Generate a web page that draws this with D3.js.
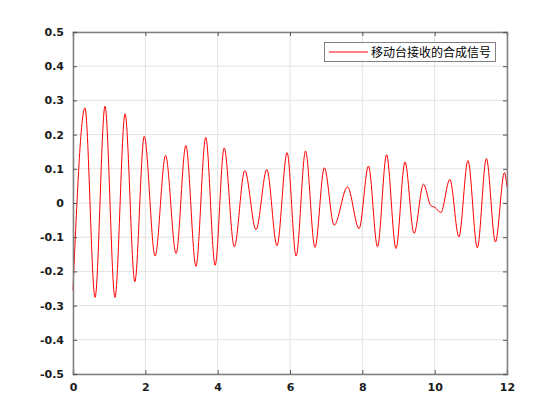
<!DOCTYPE html>
<html>
<head>
<meta charset="utf-8">
<script src="https://cdn.jsdelivr.net/npm/d3@7"></script>
<style>
  body { margin: 0; background: #fff; }
  .tick text { font-family: "DejaVu Sans", sans-serif; font-weight: bold; font-size: 11px; fill: #1a1a1a; }
</style>
</head>
<body>
<svg width="560" height="420"></svg>
<script>
// turning points of the signal
var times = [0, 0.33, 0.61, 0.885, 1.16, 1.44, 1.71, 1.97, 2.27, 2.56, 2.85,
  3.12, 3.40, 3.67, 3.93, 4.18, 4.46, 4.75, 5.06, 5.36, 5.64, 5.92,
  6.17, 6.43, 6.69, 6.95, 7.22, 7.59, 7.91, 8.17, 8.42, 8.67, 8.93,
  9.18, 9.43, 9.69, 9.89, 10.01, 10.17, 10.42, 10.67, 10.92, 11.18, 11.43, 11.68, 11.93, 12];
var values = [-0.255, 0.278, -0.276, 0.283, -0.276, 0.261, -0.23, 0.195, -0.155, 0.139, -0.148,
  0.168, -0.185, 0.192, -0.182, 0.161, -0.128, 0.095, -0.078, 0.098, -0.125, 0.147,
  -0.155, 0.152, -0.13, 0.103, -0.065, 0.047, -0.075, 0.108, -0.128, 0.141, -0.133,
  0.12, -0.089, 0.055, -0.007, -0.013, -0.028, 0.069, -0.099, 0.124, -0.131, 0.13, -0.114, 0.089, 0.047];

var xTicks = [0, 2, 4, 6, 8, 10, 12];
var yTicks = [-0.5, -0.4, -0.3, -0.2, -0.1, 0, 0.1, 0.2, 0.3, 0.4, 0.5];
var legendLabel = "移动台接收的合成信号";

var svg = d3.select("svg"),
    x0 = 73, x1 = 507, y0 = 32, y1 = 374;

var x = d3.scaleLinear().domain([0, 12]).range([x0, x1]);
var y = d3.scaleLinear().domain([-0.5, 0.5]).range([y1, y0]);

// grid
svg.append("g").selectAll("line")
  .data(xTicks)
  .enter().append("line")
  .attr("x1", function(d) { return x(d); }).attr("x2", function(d) { return x(d); })
  .attr("y1", y0).attr("y2", y1)
  .attr("stroke", "#e3e3e3");
svg.append("g").selectAll("line")
  .data(yTicks)
  .enter().append("line")
  .attr("y1", function(d) { return y(d); }).attr("y2", function(d) { return y(d); })
  .attr("x1", x0).attr("x2", x1)
  .attr("stroke", "#e3e3e3");

// signal
var pts = times.map(function(t, i) { return [t, values[i]]; });
var line = d3.line()
  .x(function(d) { return x(d[0]); })
  .y(function(d) { return y(d[1]); })
  .curve(d3.curveMonotoneX);
svg.append("path")
  .datum(pts)
  .attr("fill", "none")
  .attr("stroke", "#ff0000")
  .attr("stroke-width", 1)
  .attr("d", line);

// axes, ticks inward on all sides
var fmt = function(d) { return String(+d.toFixed(1)); };
svg.append("g").attr("transform", "translate(0," + y1 + ")")
  .call(d3.axisBottom(x).tickValues(xTicks).tickSize(-4).tickPadding(9).tickFormat(d3.format("d")));
svg.append("g").attr("transform", "translate(0," + y0 + ")")
  .call(d3.axisTop(x).tickValues(xTicks).tickSize(-4).tickFormat(""));
svg.append("g").attr("transform", "translate(" + x0 + ",0)")
  .call(d3.axisLeft(y).tickValues(yTicks).tickSize(-4).tickPadding(9).tickFormat(fmt));
svg.append("g").attr("transform", "translate(" + x1 + ",0)")
  .call(d3.axisRight(y).tickValues(yTicks).tickSize(-4).tickFormat(""));
svg.selectAll(".domain").attr("stroke", "#808080").attr("stroke-width", 1.5);
svg.selectAll(".tick line").attr("stroke", "#555");

// legend
var lg = svg.append("g");
lg.append("rect").attr("x", 324.5).attr("y", 42.5).attr("width", 171).attr("height", 19)
  .attr("fill", "#fff").attr("stroke", "#808080");
lg.append("line").attr("x1", 329).attr("x2", 368).attr("y1", 52).attr("y2", 52)
  .attr("stroke", "#ff0000");
lg.append("text").attr("x", 371).attr("y", 56.5)
  .attr("font-family", "Noto Sans CJK SC").attr("font-size", 12).attr("fill", "#000")
  .text(legendLabel);
</script>
</body>
</html>
